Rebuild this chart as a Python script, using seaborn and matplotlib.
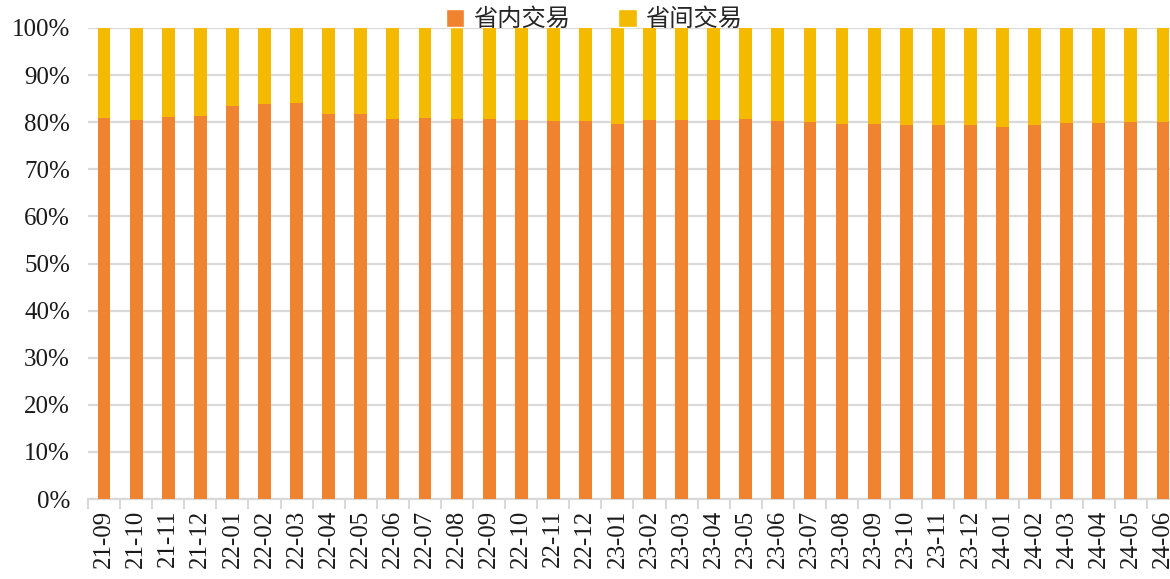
import matplotlib
matplotlib.use("Agg")
import matplotlib.pyplot as plt
import seaborn as sns
import pandas as pd
from matplotlib.patches import Patch

months = ["21-09", "21-10", "21-11", "21-12", "22-01", "22-02", "22-03", "22-04",
          "22-05", "22-06", "22-07", "22-08", "22-09", "22-10", "22-11", "22-12",
          "23-01", "23-02", "23-03", "23-04", "23-05", "23-06", "23-07", "23-08",
          "23-09", "23-10", "23-11", "23-12", "24-01", "24-02", "24-03", "24-04",
          "24-05", "24-06"]
# share of intra-provincial trading (%)
intra = [80.85, 80.4, 81.1, 81.3, 83.4, 83.8, 84.0, 81.7,
         81.7, 80.6, 80.85, 80.6, 80.6, 80.4, 80.2, 80.2,
         79.6, 80.4, 80.4, 80.4, 80.6, 80.2, 80.0, 79.6,
         79.6, 79.4, 79.4, 79.4, 78.9, 79.4, 79.8, 79.8,
         80.0, 80.0]
# share of inter-provincial trading (%)
inter = [round(100 - v, 2) for v in intra]

legend_labels = ["省内交易", "省间交易"]
c_intra = "#F0832F"
c_inter = "#F3BA00"

sns.set_theme(style="white")
plt.rcParams["font.family"] = ["Liberation Serif", "Noto Sans CJK SC", "DejaVu Sans"]

df = pd.DataFrame({"month": months, "intra": intra,
                   "total": [a + b for a, b in zip(intra, inter)]})

fig = plt.figure(figsize=(11.7, 5.79), dpi=100)
ax = fig.add_axes([88 / 1170, 1 - 499 / 579, 1091 / 1170, (499 - 28) / 579])

sns.barplot(data=df, x="month", y="total", color=c_inter, width=0.4,
            saturation=1, linewidth=0, ax=ax, zorder=3)
sns.barplot(data=df, x="month", y="intra", color=c_intra, width=0.4,
            saturation=1, linewidth=0, ax=ax, zorder=3)

ax.set_xlim(-0.5, len(months) - 0.5)
ax.set_ylim(0, 100)
ax.set_yticks(range(0, 101, 10))
ax.set_yticklabels([f"{v}%" for v in range(0, 101, 10)], fontsize=18, color="#1a1a1a")
ax.yaxis.grid(True, color="#d9d9d9", linewidth=1.6, zorder=0)
ax.set_axisbelow(True)
ax.set_xlabel("")
ax.set_ylabel("")

ax.set_xticks(range(len(months)))
ax.set_xticklabels(months, rotation=90, fontsize=18, color="#1a1a1a")
ax.tick_params(axis="x", length=0, pad=8)
ax.set_xticks([i - 0.5 for i in range(len(months) + 1)], minor=True)
ax.tick_params(axis="x", which="minor", length=7, width=1.5, color="#d9d9d9",
               bottom=True)
ax.tick_params(axis="y", length=0, pad=13)

for s in ["top", "right", "left"]:
    ax.spines[s].set_visible(False)
ax.spines["bottom"].set_color("#d9d9d9")
ax.spines["bottom"].set_linewidth(1.6)

handles = [Patch(facecolor=c_intra), Patch(facecolor=c_inter)]
fig.legend(handles, legend_labels, loc="center", bbox_to_anchor=(594 / 1170, 1 - 20 / 579),
           ncol=2, frameon=False, fontsize=17.5, handlelength=0.75, handleheight=0.75,
           columnspacing=2.0, handletextpad=0.35, borderpad=0, borderaxespad=0)

fig.savefig("out.png", dpi=100)
